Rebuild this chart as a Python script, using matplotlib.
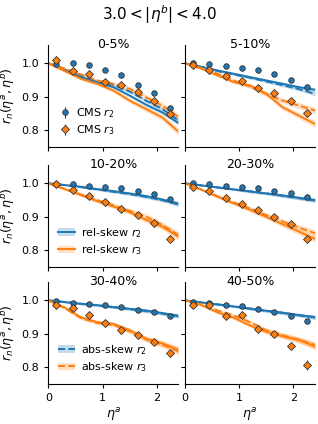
import numpy as np
import matplotlib
matplotlib.use("Agg")
import matplotlib.pyplot as plt
from matplotlib.patches import Patch
from matplotlib.lines import Line2D

# centrality classes, one panel each
centralities = ['0-5%', '5-10%', '10-20%', '20-30%', '30-40%', '40-50%']

# CMS data points
eta_cms = [0.15, 0.45, 0.75, 1.05, 1.35, 1.65, 1.95, 2.25]
cms_r2 = [
    [0.997, 1.002, 0.994, 0.979, 0.966, 0.936, 0.911, 0.866],
    [1.001, 0.997, 0.992, 0.986, 0.979, 0.967, 0.949, 0.929],
    [0.998, 0.997, 0.992, 0.990, 0.985, 0.977, 0.967, 0.952],
    [1.001, 0.997, 0.993, 0.990, 0.985, 0.978, 0.970, 0.960],
    [0.998, 0.992, 0.988, 0.985, 0.979, 0.972, 0.964, 0.952],
    [0.995, 0.991, 0.986, 0.982, 0.973, 0.965, 0.954, 0.937],
]
cms_r2_err = [
    [0.002, 0.002, 0.002, 0.003, 0.003, 0.003, 0.004, 0.006],
    [0.002, 0.002, 0.002, 0.002, 0.003, 0.003, 0.003, 0.004],
    [0.002, 0.002, 0.002, 0.002, 0.002, 0.003, 0.003, 0.003],
    [0.002, 0.002, 0.002, 0.002, 0.002, 0.003, 0.003, 0.003],
    [0.002, 0.002, 0.002, 0.002, 0.002, 0.003, 0.003, 0.003],
    [0.002, 0.002, 0.002, 0.003, 0.003, 0.003, 0.004, 0.005],
]
cms_r3 = [
    [1.011, 0.977, 0.967, 0.943, 0.934, 0.914, 0.887, 0.849],
    [0.994, 0.981, 0.962, 0.947, 0.927, 0.912, 0.887, 0.852],
    [0.997, 0.980, 0.962, 0.943, 0.923, 0.906, 0.881, 0.833],
    [0.989, 0.976, 0.957, 0.939, 0.921, 0.901, 0.879, 0.834],
    [0.987, 0.976, 0.957, 0.933, 0.911, 0.898, 0.875, 0.843],
    [0.986, 0.986, 0.952, 0.956, 0.916, 0.901, 0.864, 0.807],
]
cms_r3_err = [
    [0.005, 0.004, 0.004, 0.004, 0.005, 0.005, 0.006, 0.010],
    [0.004, 0.004, 0.004, 0.004, 0.005, 0.005, 0.006, 0.008],
    [0.003, 0.004, 0.004, 0.004, 0.005, 0.005, 0.006, 0.007],
    [0.003, 0.004, 0.004, 0.004, 0.005, 0.005, 0.006, 0.007],
    [0.004, 0.004, 0.004, 0.005, 0.005, 0.006, 0.007, 0.008],
    [0.004, 0.004, 0.004, 0.005, 0.006, 0.007, 0.010, 0.016],
]

# model curves
eta_model = [0.0, 0.3, 0.6, 0.9, 1.2, 1.5, 1.8, 2.1, 2.4]
rel_r2 = [
    [1.0, 0.981, 0.959, 0.944, 0.929, 0.904, 0.877, 0.854, 0.822],
    [1.0, 0.990, 0.979, 0.969, 0.959, 0.949, 0.939, 0.929, 0.921],
    [1.0, 0.995, 0.990, 0.983, 0.977, 0.970, 0.962, 0.952, 0.940],
    [1.0, 0.994, 0.988, 0.982, 0.976, 0.970, 0.964, 0.957, 0.950],
    [1.0, 0.995, 0.990, 0.986, 0.980, 0.975, 0.970, 0.962, 0.954],
    [1.0, 0.994, 0.988, 0.982, 0.975, 0.969, 0.963, 0.956, 0.950],
]
abs_r2 = [
    [1.0, 0.984, 0.964, 0.947, 0.936, 0.916, 0.889, 0.864, 0.830],
    [1.0, 0.989, 0.977, 0.967, 0.957, 0.946, 0.935, 0.923, 0.909],
    [1.0, 0.995, 0.989, 0.982, 0.975, 0.968, 0.960, 0.950, 0.937],
    [1.0, 0.994, 0.988, 0.982, 0.976, 0.970, 0.963, 0.956, 0.949],
    [1.0, 0.995, 0.990, 0.985, 0.980, 0.974, 0.968, 0.961, 0.953],
    [1.0, 0.994, 0.988, 0.982, 0.976, 0.969, 0.963, 0.956, 0.949],
]
rel_r3 = [
    [1.0, 0.977, 0.954, 0.939, 0.919, 0.889, 0.864, 0.839, 0.796],
    [1.0, 0.984, 0.964, 0.944, 0.934, 0.909, 0.869, 0.844, 0.819],
    [1.0, 0.983, 0.965, 0.947, 0.931, 0.914, 0.891, 0.871, 0.841],
    [1.0, 0.981, 0.960, 0.940, 0.921, 0.900, 0.878, 0.856, 0.834],
    [1.0, 0.979, 0.950, 0.935, 0.930, 0.911, 0.886, 0.872, 0.853],
    [1.0, 0.986, 0.964, 0.948, 0.925, 0.906, 0.893, 0.882, 0.862],
]
abs_r3 = [
    [1.0, 0.984, 0.967, 0.949, 0.939, 0.924, 0.899, 0.874, 0.840],
    [1.0, 0.987, 0.969, 0.949, 0.931, 0.909, 0.889, 0.874, 0.859],
    [1.0, 0.984, 0.967, 0.950, 0.935, 0.918, 0.901, 0.876, 0.846],
    [1.0, 0.982, 0.962, 0.943, 0.925, 0.905, 0.886, 0.868, 0.851],
    [1.0, 0.977, 0.947, 0.933, 0.927, 0.908, 0.884, 0.868, 0.848],
    [1.0, 0.988, 0.970, 0.955, 0.935, 0.911, 0.896, 0.882, 0.867],
]
# half widths of the model bands
band_r2 = [0.0, 0.002, 0.003, 0.003, 0.004, 0.004, 0.005, 0.005, 0.006]
band_r3 = [0.0, 0.003, 0.004, 0.005, 0.006, 0.007, 0.008, 0.009, 0.010]

c2 = '#1f77b4'
c3 = '#ff7f0e'

fig = plt.figure(figsize=(3.18, 4.24), dpi=100)
fig.text(0.5, 1 - 15 / 424, r'$3.0 < |\eta^b| < 4.0$', ha='center', va='center', fontsize=11)

lefts = [0.152, 0.582]
bottoms = [0.653, 0.370, 0.094]
w, h = 0.409, 0.241

axes = []
for i, cent in enumerate(centralities):
    row, col = divmod(i, 2)
    ax = fig.add_axes([lefts[col], bottoms[row], w, h])
    axes.append(ax)

    x = np.array(eta_model)
    b2 = np.array(band_r2)
    b3 = np.array(band_r3)
    for curve, band, col_, ls in [(rel_r2[i], b2, c2, '-'), (abs_r2[i], b2, c2, '--'),
                                   (rel_r3[i], b3, c3, '-'), (abs_r3[i], b3, c3, '--')]:
        y = np.array(curve)
        ax.fill_between(x, y - band, y + band, color=col_, alpha=0.25, lw=0)
        ax.plot(x, y, color=col_, ls=ls, lw=1.4)

    ax.errorbar(eta_cms, cms_r2[i], yerr=cms_r2_err[i], fmt='o', color=c2, ms=4,
                mec='#333333', mew=0.6, ecolor='#333333', elinewidth=0.8, label='CMS $r_2$', zorder=5)
    ax.errorbar(eta_cms, cms_r3[i], yerr=cms_r3_err[i], fmt='D', color=c3, ms=3.8,
                mec='#333333', mew=0.6, ecolor='#333333', elinewidth=0.8, label='CMS $r_3$', zorder=5)

    ax.set_xlim(0, 2.4)
    ax.set_ylim(0.75, 1.055)
    ax.set_xticks([0, 1, 2])
    ax.set_yticks([0.8, 0.9, 1.0])
    ax.spines['top'].set_visible(False)
    ax.spines['right'].set_visible(False)
    ax.tick_params(labelsize=8, length=3, width=0.8)
    ax.text(0.5, 1.0, cent, transform=ax.transAxes, ha='center', va='center', fontsize=9)

    if col == 0:
        ax.set_ylabel(r'$r_n(\eta^a, \eta^b)$', fontsize=9, labelpad=3)
    else:
        ax.set_yticklabels([])
    if row == 2:
        ax.set_xlabel(r'$\eta^a$', fontsize=9, labelpad=2)
    else:
        ax.set_xticklabels([])

# legends
axes[0].legend(loc='lower left', frameon=False, fontsize=8, handletextpad=0.4,
               handlelength=1.2, labelspacing=0.3)

rel_handles = [(Patch(color=c2, alpha=0.25, lw=0), Line2D([], [], color=c2, lw=1.4)),
               (Patch(color=c3, alpha=0.25, lw=0), Line2D([], [], color=c3, lw=1.4))]
axes[2].legend(rel_handles, ['rel-skew $r_2$', 'rel-skew $r_3$'], loc='lower left',
               frameon=False, fontsize=8, handlelength=1.5, handletextpad=0.5, labelspacing=0.3)

abs_handles = [(Patch(color=c2, alpha=0.25, lw=0), Line2D([], [], color=c2, lw=1.4, ls='--')),
               (Patch(color=c3, alpha=0.25, lw=0), Line2D([], [], color=c3, lw=1.4, ls='--'))]
axes[4].legend(abs_handles, ['abs-skew $r_2$', 'abs-skew $r_3$'], loc='lower left',
               frameon=False, fontsize=8, handlelength=1.5, handletextpad=0.5, labelspacing=0.3)

fig.savefig('out.png', dpi=100)
